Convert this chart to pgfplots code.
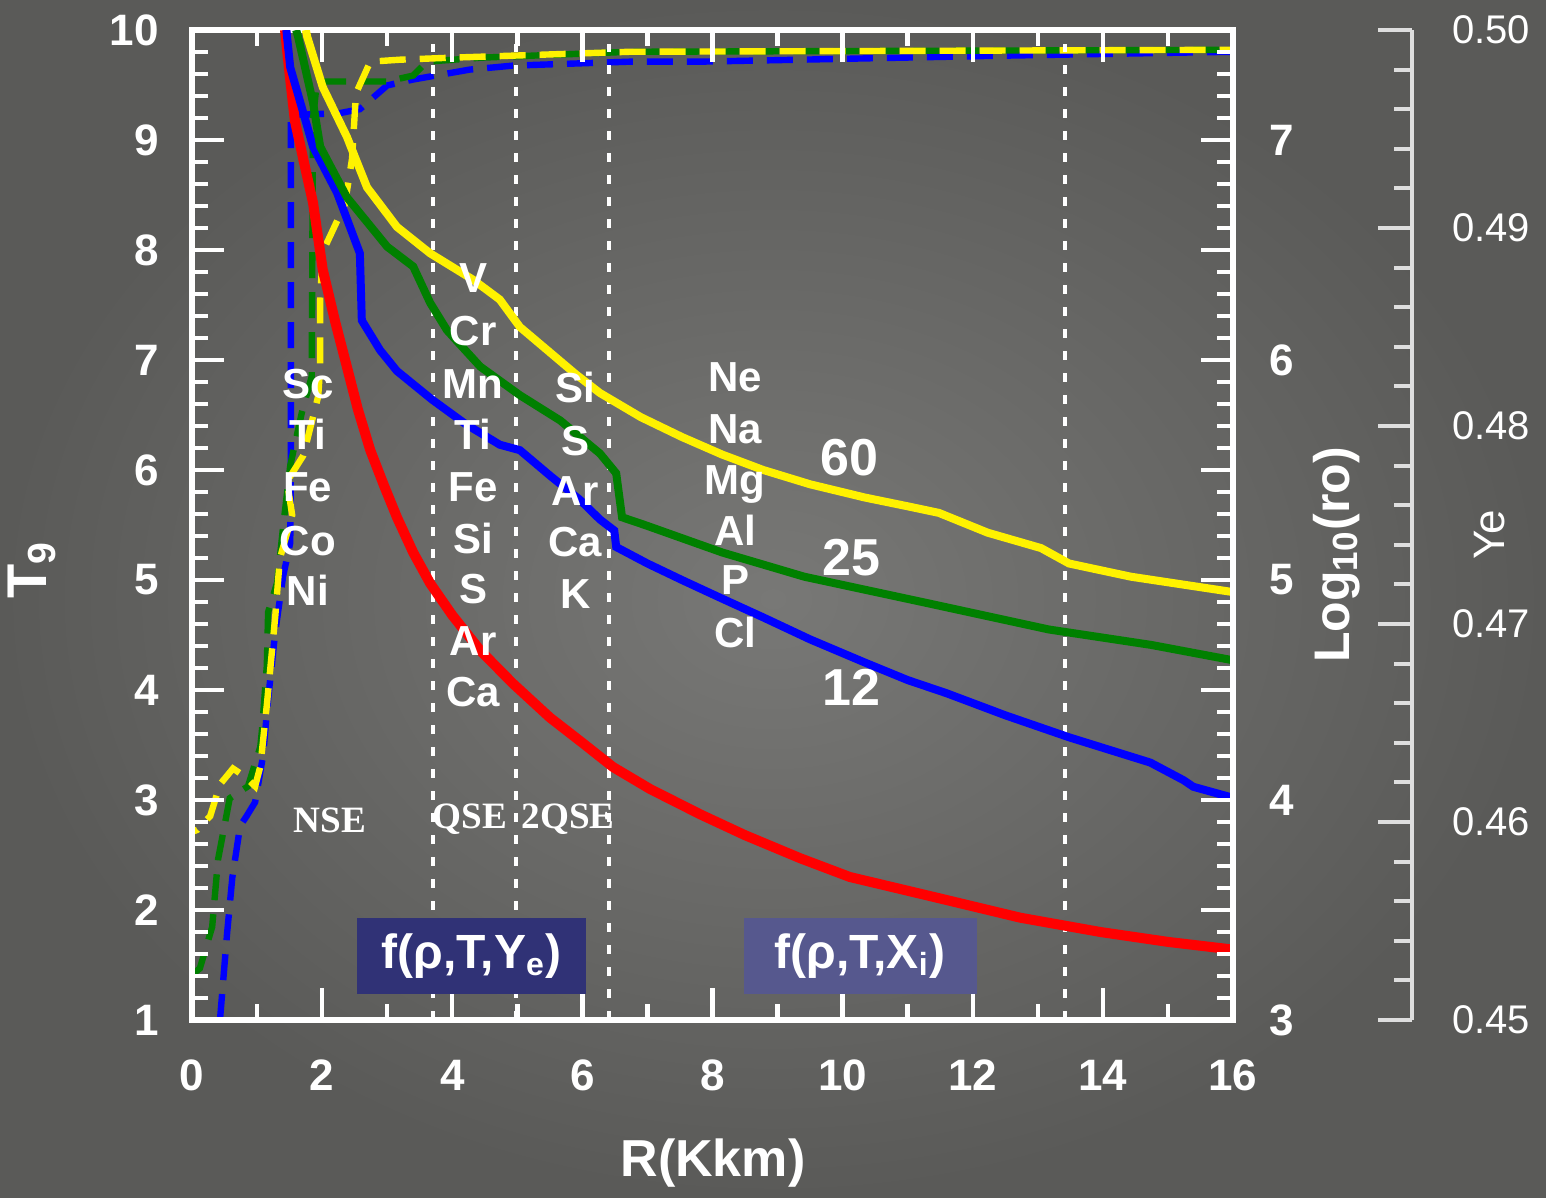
\documentclass[border=0pt]{standalone}
\usepackage{pgfplots}
\pgfplotsset{compat=1.18}
\usepackage{fontspec}
\setmainfont{Liberation Sans}
\newfontfamily\serifb{Liberation Serif}
\definecolor{bgin}{RGB}{120,120,118}
\definecolor{bgout}{RGB}{90,90,88}
\definecolor{boxA}{RGB}{48,50,118}
\definecolor{boxB}{RGB}{86,88,142}
\definecolor{dgreen}{RGB}{0,128,0}
\definecolor{yegray}{RGB}{222,222,222}
\tikzset{elem/.style={white, font=\bfseries\fontsize{10.5}{10.5}\selectfont, text height=7.5pt, text depth=0pt, inner sep=0pt, anchor=center},
  num/.style={white, font=\bfseries\fontsize{13}{13}\selectfont, text height=9.3pt, text depth=0pt, inner sep=0pt},
  reg/.style={white, font=\serifb\bfseries\fontsize{9.3}{9.3}\selectfont, text height=6.2pt, text depth=0pt, inner sep=0pt}}
\begin{document}
\begin{tikzpicture}
\path[use as bounding box] (-48pt,-44.5pt) rectangle (338.5pt,255pt);
\shade[inner color=bgin, outer color=bgout] (-48pt,-44.5pt) rectangle (338.5pt,255pt);

% dashed Ye curves
\begin{axis}[at={(0pt,0pt)}, anchor=south west, scale only axis,
  width=260.25pt, height=247.5pt, xmin=0, xmax=16, ymin=0.45, ymax=0.50, hide axis]
\addplot[blue, line width=1.6pt, dash pattern=on 6.5pt off 3.5pt] coordinates {
(0.43,0.4500)(0.54,0.4544)(0.62,0.4572)(0.74,0.4598)(0.84,0.4603)(0.97,0.4610)
(1.09,0.4633)(1.17,0.4662)(1.28,0.4696)(1.40,0.4724)(1.51,0.4741)(1.52,0.4782)
(1.52,0.4957)(2.27,0.4958)(2.58,0.4960)(3.00,0.4972)(3.40,0.4975)(4.27,0.4980)
(4.93,0.4982)(6.73,0.4984)(7.81,0.4984)(12.42,0.4987)(16,0.4989)};
\addplot[dgreen, line width=1.6pt, dash pattern=on 6.5pt off 3.5pt] coordinates {
(0,0.4523)(0.12,0.4526)(0.31,0.4547)(0.40,0.4581)(0.58,0.4612)(0.86,0.4618)
(1.05,0.4638)(1.08,0.4648)(1.15,0.4679)(1.17,0.4706)(1.31,0.4721)(1.40,0.4749)
(1.51,0.4780)(1.69,0.4807)(1.84,0.4825)(1.86,0.4955)(1.92,0.4974)(3.00,0.4974)
(3.40,0.4977)(3.61,0.4984)(4.43,0.4986)(6.73,0.4989)(16,0.4990)};
\addplot[yellow, line width=1.6pt, dash pattern=on 6.5pt off 3.5pt, dash phase=5pt] coordinates {
(0,0.4595)(0.08,0.4596)(0.28,0.4603)(0.43,0.4619)(0.63,0.4627)(0.81,0.4623)
(0.97,0.4618)(1.05,0.4628)(1.15,0.4659)(1.28,0.4704)(1.35,0.4733)(1.54,0.4755)
(1.46,0.4772)(1.71,0.4785)(1.94,0.4815)(1.97,0.4830)(1.97,0.4864)(2.01,0.4888)
(2.35,0.4912)(2.46,0.4935)(2.52,0.4968)(2.74,0.4984)(3.20,0.4985)(3.97,0.4986)
(6.73,0.4989)(16,0.4990)};
\end{axis}

% main T9 axis
\begin{axis}[at={(0pt,0pt)}, anchor=south west, scale only axis,
  width=260.25pt, height=247.5pt,
  xmin=0, xmax=16, ymin=1, ymax=10,
  axis line style={white, line width=1.6pt},
  xtick={0,2,...,16}, minor xtick={1,3,...,15},
  ytick={1,...,10}, minor y tick num=4,
  xtick pos=both, xticklabel pos=left, ytick pos=left,
  tick align=inside,
  major tick length=8pt, minor tick length=4pt,
  tick style={white, line width=1.1pt},
  tick label style={white, font=\bfseries\fontsize{11}{11}\selectfont},
  xticklabel style={yshift=-6.5pt},
  yticklabel style={xshift=-4.8pt},
  /pgf/number format/assume math mode=true]
% dotted region separators
\addplot[white, line width=0.9pt, dash pattern=on 2.3pt off 3.2pt] coordinates {(3.70,1)(3.70,9.87)};
\addplot[white, line width=0.9pt, dash pattern=on 2.3pt off 3.2pt] coordinates {(4.98,1)(4.98,9.87)};
\addplot[white, line width=0.9pt, dash pattern=on 2.3pt off 3.2pt] coordinates {(6.41,1)(6.41,9.87)};
\addplot[white, line width=0.9pt, dash pattern=on 2.3pt off 3.2pt] coordinates {(13.42,1)(13.42,9.87)};
% boxes
\fill[boxA] (axis cs:2.54,1.236) rectangle (axis cs:6.06,1.927);
\fill[boxB] (axis cs:8.48,1.236) rectangle (axis cs:12.07,1.927);
\node[white, font=\bfseries\fontsize{12}{12}\selectfont] at (axis cs:4.30,1.58) {f(ρ,T,Y\textsubscript{e})};
\node[white, font=\bfseries\fontsize{12}{12}\selectfont] at (axis cs:10.27,1.58) {f(ρ,T,X\textsubscript{i})};
% solid curves
\addplot[red, line width=2.5pt] coordinates {
(1.43,10)(1.50,9.6)(1.58,9.18)(1.72,8.8)(1.86,8.43)(2.01,7.82)(2.2,7.35)(2.38,6.94)
(2.55,6.55)(2.74,6.18)(2.95,5.86)(3.15,5.57)(3.4,5.25)(3.66,4.97)(4.0,4.68)(4.43,4.36)
(4.93,4.06)(5.5,3.75)(6.0,3.52)(6.47,3.30)(7.04,3.10)(7.81,2.87)(8.5,2.68)(9.35,2.47)
(10.11,2.30)(11.39,2.12)(12.73,1.93)(13.96,1.80)(15,1.71)(16,1.64)};
\addplot[blue, line width=2pt] coordinates {
(1.45,10)(1.51,9.66)(1.86,8.94)(2.23,8.52)(2.58,7.97)(2.61,7.36)(2.89,7.09)(3.15,6.90)
(3.69,6.64)(4.2,6.42)(4.73,6.23)(5.04,6.18)(5.5,5.95)(5.96,5.73)(6.27,5.55)(6.49,5.45)
(6.52,5.30)(7.0,5.15)(7.53,5.0)(8.15,4.83)(8.78,4.66)(9.5,4.46)(10.34,4.25)(11.0,4.09)
(11.6,3.97)(12.5,3.77)(13.48,3.57)(14.73,3.34)(15.24,3.18)(15.39,3.12)(16,3.02)};
\addplot[dgreen, line width=2pt] coordinates {
(1.60,10)(1.63,9.94)(1.86,9.34)(1.97,8.94)(2.38,8.48)(3.0,8.03)(3.40,7.85)(3.66,7.52)
(3.92,7.27)(4.43,6.94)(5.04,6.68)(5.66,6.45)(6.27,6.15)(6.52,5.97)(6.61,5.57)(6.96,5.50)
(8.15,5.25)(9.41,5.03)(11.3,4.79)(13.17,4.55)(14.74,4.41)(16,4.27)};
\addplot[yellow, line width=2pt] coordinates {
(1.75,10)(1.77,9.94)(2.01,9.48)(2.38,9.03)(2.69,8.57)(3.15,8.21)(3.66,7.97)(4.32,7.73)
(4.73,7.55)(5.04,7.30)(5.46,7.09)(5.9,6.87)(6.27,6.70)(6.9,6.48)(7.53,6.30)(8.15,6.14)
(8.78,6.0)(9.5,5.87)(10.34,5.75)(11.0,5.67)(11.48,5.61)(12.23,5.43)(13.05,5.29)
(13.48,5.15)(14.43,5.03)(16,4.89)};
% element labels
\node[elem] at (axis cs:1.78,6.79) {Sc};
\node[elem] at (axis cs:1.78,6.32) {Ti};
\node[elem] at (axis cs:1.78,5.85) {Fe};
\node[elem] at (axis cs:1.78,5.36) {Co};
\node[elem] at (axis cs:1.78,4.90) {Ni};
\node[elem] at (axis cs:4.32,7.75) {V};
\node[elem] at (axis cs:4.32,7.27) {Cr};
\node[elem] at (axis cs:4.32,6.79) {Mn};
\node[elem] at (axis cs:4.32,6.32) {Ti};
\node[elem] at (axis cs:4.32,5.85) {Fe};
\node[elem] at (axis cs:4.32,5.38) {Si};
\node[elem] at (axis cs:4.32,4.92) {S};
\node[elem] at (axis cs:4.32,4.45) {Ar};
\node[elem] at (axis cs:4.32,3.99) {Ca};
\node[elem] at (axis cs:5.89,6.75) {Si};
\node[elem] at (axis cs:5.89,6.27) {S};
\node[elem] at (axis cs:5.89,5.81) {Ar};
\node[elem] at (axis cs:5.89,5.35) {Ca};
\node[elem] at (axis cs:5.89,4.88) {K};
\node[elem] at (axis cs:8.35,6.85) {Ne};
\node[elem] at (axis cs:8.35,6.38) {Na};
\node[elem] at (axis cs:8.35,5.91) {Mg};
\node[elem] at (axis cs:8.35,5.45) {Al};
\node[elem] at (axis cs:8.35,5.00) {P};
\node[elem] at (axis cs:8.35,4.52) {Cl};
\node[num] at (axis cs:10.10,6.12) {60};
\node[num] at (axis cs:10.13,5.21) {25};
\node[num] at (axis cs:10.13,4.03) {12};
\node[reg] at (axis cs:2.12,2.82) {NSE};
\node[reg] at (axis cs:4.27,2.85) {QSE};
\node[reg] at (axis cs:5.78,2.85) {2QSE};
\end{axis}

% log10(rho) axis on the right of the frame
\begin{axis}[at={(0pt,0pt)}, anchor=south west, scale only axis,
  width=260.25pt, height=247.5pt,
  xmin=0, xmax=16, ymin=3, ymax=7.5,
  axis x line=none, axis y line*=right,
  axis line style={white, line width=1.6pt},
  ytick={3,3.5,4,4.5,5,5.5,6,6.5,7,7.5}, yticklabels={3,,4,,5,,6,,7,},
  minor y tick num=4,
  tick align=inside,
  major tick length=8pt, minor tick length=4pt,
  tick style={white, line width=1.1pt},
  tick label style={white, font=\bfseries\fontsize{11}{11}\selectfont},
  yticklabel style={xshift=5.7pt},
  /pgf/number format/assume math mode=true]
\end{axis}

% Ye scale
\begin{axis}[at={(277pt,0pt)}, anchor=south west, scale only axis,
  width=28pt, height=247.5pt,
  xmin=0, xmax=1, ymin=0.45, ymax=0.50,
  axis x line=none, axis y line*=right,
  axis line style={yegray, line width=1pt},
  ytick={0.45,0.46,0.47,0.48,0.49,0.50}, minor y tick num=4,
  tick align=inside,
  major tick length=8.5pt, minor tick length=4.5pt,
  tick style={yegray, line width=1pt},
  tick label style={white, font=\fontsize{10}{10}\selectfont},
  yticklabel style={xshift=6.5pt, /pgf/number format/.cd, fixed, fixed zerofill, precision=2},
  /pgf/number format/assume math mode=true]
\end{axis}

\node[rotate=90, white, font=\bfseries\fontsize{14}{14}\selectfont] at (-40pt,112.5pt) {T\textsubscript{9}};
\node[white, font=\bfseries\fontsize{13}{13}\selectfont] at (130.25pt,-35.75pt) {R(Kkm)};
\node[rotate=90, white, font=\bfseries\fontsize{12.5}{12.5}\selectfont] at (286.25pt,116.25pt) {Log\textsubscript{10}(ro)};
\node[rotate=90, white, font=\fontsize{11}{11}\selectfont] at (324.5pt,121.25pt) {Ye};
\end{tikzpicture}
\end{document}
